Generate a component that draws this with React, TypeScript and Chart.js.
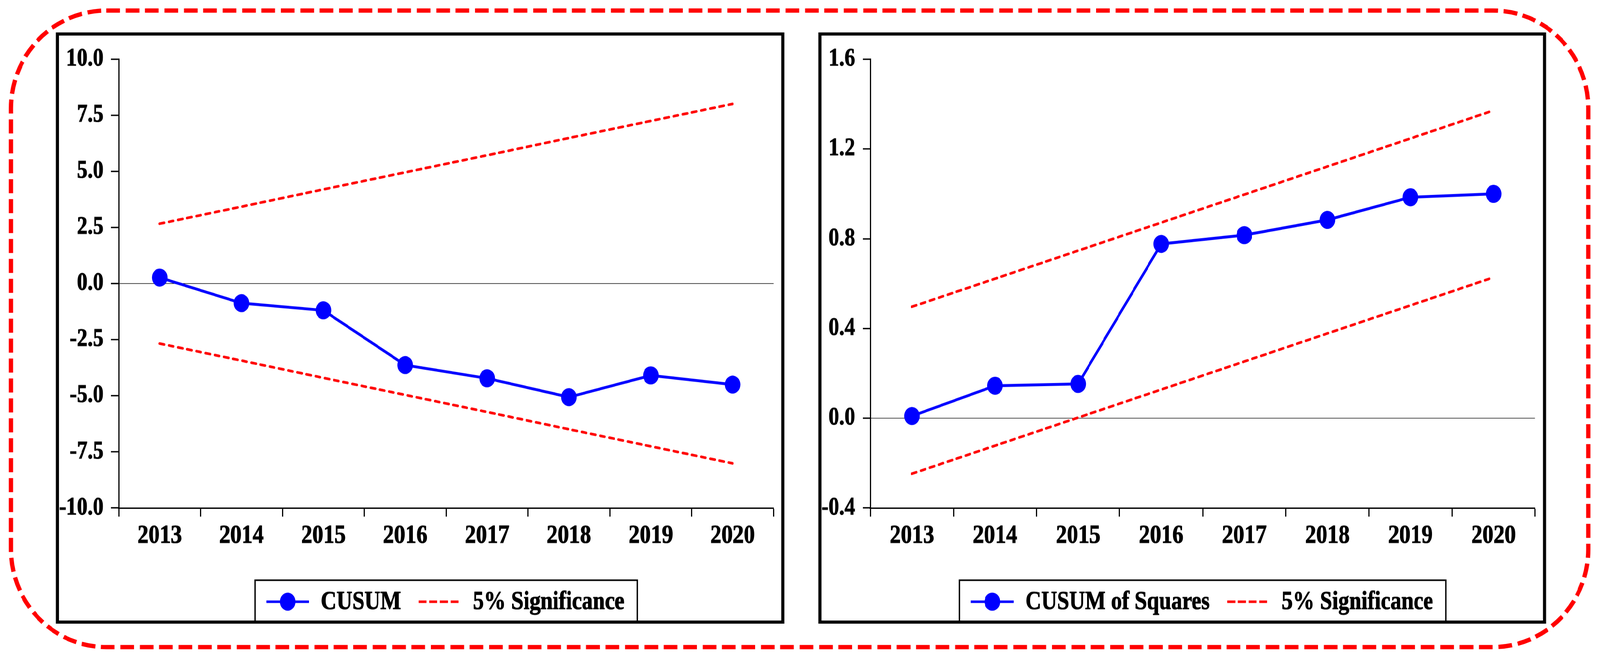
import React, { useEffect, useRef } from 'react';
import { Chart, registerables } from 'chart.js';

Chart.register(...registerables);

// ---------- data ----------
const years = ['2013', '2014', '2015', '2016', '2017', '2018', '2019', '2020'];

const cusum = [0.27, -0.87, -1.19, -3.63, -4.22, -5.06, -4.09, -4.5];
const cusumUpper = [2.67, 3.43, 4.2, 4.96, 5.72, 6.49, 7.25, 8.01];
const cusumLower = [-2.67, -3.43, -4.2, -4.96, -5.72, -6.49, -7.25, -8.01];

const cusumSq = [0.01, 0.145, 0.153, 0.777, 0.816, 0.884, 0.985, 1.0];
const sqUpper = [0.497, 0.622, 0.747, 0.872, 0.997, 1.122, 1.247, 1.372];
const sqLower = [-0.247, -0.122, 0.003, 0.128, 0.253, 0.378, 0.503, 0.628];

const cusumAxis = { min: -10, max: 10, step: 2.5 };
const sqAxis = { min: -0.4, max: 1.6, step: 0.4 };

const labelCusum = 'CUSUM';
const labelSq = 'CUSUM of Squares';
const labelSig = '5% Significance';

// ---------- style ----------
const FONT = 'Liberation Serif';
const BLUE = '#0000FF';
const RED = '#FF0000';
const X_FONT = 58.5;
const Y_FONT = 56;
const LEGEND_FONT = 57.5;
const TEXT_STROKE = 1.2;
const S = 1.13; // vertical stretch of the reference picture
const REF_W = 4204;
const REF_H = 1689;

const boxLegend = {
  id: 'boxLegend',
  afterDraw(chart: any, _args: any, opts: any) {
    const ctx = chart.ctx as CanvasRenderingContext2D;
    const seen = new Set<string>();
    const items: any[] = [];
    chart.data.datasets.forEach((d: any) => {
      if (!seen.has(d.label)) {
        seen.add(d.label);
        items.push(d);
      }
    });
    ctx.save();
    ctx.font = `bold ${LEGEND_FONT}px "${FONT}"`;
    const widths = items.map((d) => ctx.measureText(d.label).width);
    const total =
      opts.padL +
      opts.padR +
      items.reduce((s, _d, i) => s + opts.sample + opts.gapText + widths[i], 0) +
      opts.gapItem * (items.length - 1);
    const ca = chart.chartArea;
    const cx = (ca.left + ca.right) / 2;
    const left = cx - total / 2;
    const top = opts.top;
    const bottom = chart.height + 10;
    ctx.fillStyle = '#fff';
    ctx.fillRect(left, top, total, bottom - top);
    ctx.lineWidth = 3.5;
    ctx.strokeStyle = '#000';
    ctx.strokeRect(left, top, total, bottom - top);
    let x = left + opts.padL;
    const y = top + opts.mid;
    items.forEach((d, i) => {
      ctx.strokeStyle = d.borderColor;
      ctx.lineWidth = opts.sampleWidth;
      ctx.lineCap = 'butt';
      ctx.setLineDash(d.borderDash && d.borderDash.length ? [21, 7] : []);
      ctx.beginPath();
      ctx.moveTo(x, y);
      ctx.lineTo(x + opts.sample, y);
      ctx.stroke();
      ctx.setLineDash([]);
      if (d.pointRadius > 0) {
        ctx.fillStyle = d.pointBackgroundColor;
        ctx.beginPath();
        ctx.arc(x + opts.sample / 2, y, opts.markerR, 0, Math.PI * 2);
        ctx.fill();
      }
      x += opts.sample + opts.gapText;
      ctx.fillStyle = '#000';
      ctx.strokeStyle = '#000';
      ctx.lineWidth = TEXT_STROKE;
      ctx.lineJoin = 'round';
      ctx.textAlign = 'left';
      ctx.textBaseline = 'middle';
      ctx.save();
      ctx.translate(x, y + opts.textDy);
      ctx.scale(1, opts.textStretch);
      ctx.fillText(d.label, 0, 0);
      ctx.strokeText(d.label, 0, 0);
      ctx.restore();
      x += widths[i] + opts.gapItem;
    });
    ctx.restore();
  },
};

type PanelProps = {
  left: number;
  top: number;
  width: number;
  height: number;
  mainLabel: string;
  main: number[];
  upper: number[];
  lower: number[];
  axis: { min: number; max: number; step: number };
  yWidth: number;
  padRight: number;
  padTop: number;
};

function Panel(p: PanelProps) {
  const ref = useRef<HTMLCanvasElement>(null);
  const innerW = p.width - 16;
  const innerH = p.height - 16;
  const canvasH = Math.round(innerH / S);

  useEffect(() => {
    if (!ref.current) return;
    const sigStyle = {
      borderColor: RED,
      borderDash: [12, 12.5],
      borderCapStyle: 'round' as const,
      borderWidth: 6,
      pointRadius: 0,
      tension: 0,
      fill: false,
    };
    const chart = new Chart(ref.current, {
      type: 'line',
      data: {
        labels: years,
        datasets: [
          {
            label: p.mainLabel,
            data: p.main,
            borderColor: BLUE,
            backgroundColor: BLUE,
            pointBackgroundColor: BLUE,
            pointBorderWidth: 0,
            pointRadius: 20.5,
            borderWidth: 6.5,
            tension: 0,
            fill: false,
          },
          { label: labelSig, data: p.upper, ...sigStyle },
          { label: labelSig, data: p.lower, ...sigStyle },
        ],
      },
      options: {
        responsive: false,
        maintainAspectRatio: false,
        animation: false,
        devicePixelRatio: 1,
        layout: { padding: { top: p.padTop / S, right: p.padRight, left: 0, bottom: 0 } },
        plugins: {
          legend: { display: false },
          tooltip: { enabled: false },
          boxLegend: {
            top: 1394 / S,
            mid: 55 / S,
            padL: 30,
            padR: 34,
            sample: 112,
            gapText: 31,
            gapItem: 46,
            sampleWidth: 6.5 / S,
            markerR: 20.5,
            textDy: 1,
            textStretch: 1.04,
          },
        } as any,
        scales: {
          x: {
            type: 'category',
            offset: true,
            grid: {
              display: true,
              offset: true,
              drawOnChartArea: false,
              drawTicks: true,
              tickLength: 22 / S,
              tickWidth: 3,
              tickColor: '#000',
              color: '#000',
            },
            border: { display: true, color: '#000', width: 3.5 / S },
            ticks: {
              font: { family: FONT, size: X_FONT, weight: 'bold' },
              color: '#000',
              textStrokeColor: '#000',
              textStrokeWidth: TEXT_STROKE,
              padding: 9,
              maxRotation: 0,
              autoSkip: false,
            },
            afterFit: (s: any) => {
              s.height = 288 / S;
            },
          },
          y: {
            type: 'linear',
            min: p.axis.min,
            max: p.axis.max,
            grid: {
              display: true,
              drawOnChartArea: true,
              drawTicks: true,
              tickLength: 20,
              tickWidth: 3.5 / S,
              tickColor: '#000',
              color: (c: any) =>
                c.tick && Math.abs(c.tick.value) < 1e-9 ? '#000' : 'rgba(0,0,0,0)',
              lineWidth: 1.3,
            },
            border: { display: true, color: '#000', width: 3 },
            ticks: {
              stepSize: p.axis.step,
              font: { family: FONT, size: Y_FONT, weight: 'bold' },
              color: '#000',
              textStrokeColor: '#000',
              textStrokeWidth: TEXT_STROKE,
              padding: 20,
              callback: (v: any) => Number(v).toFixed(1),
            },
            afterFit: (s: any) => {
              s.width = p.yWidth;
            },
          },
        },
      },
      plugins: [boxLegend],
    });
    return () => chart.destroy();
  }, []);

  return (
    <div
      style={{
        position: 'absolute',
        left: p.left,
        top: p.top,
        width: p.width,
        height: p.height,
        boxSizing: 'border-box',
        border: '8px solid #000',
        background: '#fff',
        overflow: 'hidden',
      }}
    >
      <canvas
        ref={ref}
        width={innerW}
        height={canvasH}
        style={{ display: 'block', width: innerW, height: innerH }}
      />
    </div>
  );
}

export default function App() {
  // the browser viewport may be narrower than the reference; fit the whole figure into it
  const vw = typeof window !== 'undefined' ? window.innerWidth || REF_W : REF_W;
  const vh = typeof window !== 'undefined' ? window.innerHeight || REF_H : REF_H;
  const sx = Math.min(1, vw / REF_W);
  const sy = Math.min(1, vh / REF_H);

  useEffect(() => {
    document.body.style.margin = '0';
    document.body.style.overflow = 'hidden';
  }, []);

  return (
    <div
      style={{
        position: 'absolute',
        left: 0,
        top: 0,
        width: REF_W,
        height: REF_H,
        background: '#fff',
        overflow: 'hidden',
        transform: `scale(${sx}, ${sy})`,
        transformOrigin: '0 0',
      }}
    >
      <Panel
        left={147}
        top={83}
        width={1914}
        height={1513}
        mainLabel={labelCusum}
        main={cusum}
        upper={cusumUpper}
        lower={cusumLower}
        axis={cusumAxis}
        yWidth={157}
        padRight={7}
        padTop={37}
      />
      <Panel
        left={2150}
        top={83}
        width={1912}
        height={1513}
        mainLabel={labelSq}
        main={cusumSq}
        upper={sqUpper}
        lower={sqLower}
        axis={sqAxis}
        yWidth={129}
        padRight={5}
        padTop={36}
      />
      <svg
        width={REF_W}
        height={REF_H}
        style={{ position: 'absolute', left: 0, top: 0, pointerEvents: 'none' }}
      >
        <rect
          x={29}
          y={27}
          width={4144}
          height={1629}
          rx={250}
          ry={250}
          fill="none"
          stroke={RED}
          strokeWidth={11}
          strokeDasharray="36 15"
        />
      </svg>
    </div>
  );
}
